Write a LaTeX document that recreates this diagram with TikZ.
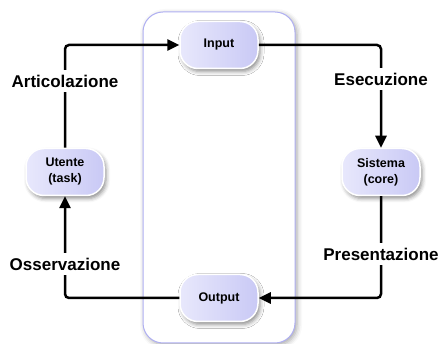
\documentclass[tikz,border=0pt]{standalone}
\usepackage{fontspec}
\setmainfont{Liberation Sans}
\usetikzlibrary{shadows.blur,arrows.meta}
\definecolor{nodelight}{HTML}{E8E8FC}
\definecolor{nodedark}{HTML}{C9C9F5}
\definecolor{frameblue}{HTML}{AFAFF2}
\begin{document}
\begin{tikzpicture}[x=1pt,y=-1pt,
  box/.style={draw=white, line width=1.5pt, rounded corners=18pt,
    minimum width=78pt, minimum height=47pt, inner sep=2pt,
    left color=nodelight, right color=nodedark,
    font=\bfseries\fontsize{12.5}{16}\selectfont, align=center,
    blur shadow={shadow xshift=2pt, shadow yshift=-3pt, shadow blur radius=4pt, shadow opacity=45}},
  conn/.style={line width=2.5pt, rounded corners=4pt, -{Triangle[length=12pt,width=11pt]}},
  lab/.style={fill=white, font=\bfseries\fontsize{17}{20}\selectfont, inner xsep=2pt, inner ysep=5pt}]
\useasboundingbox (0,0) rectangle (440,344);
\node[draw=frameblue, line width=1pt, fill=white, rounded corners=20pt,
  minimum width=152pt, minimum height=331pt, inner sep=0pt,
  blur shadow={shadow xshift=2pt, shadow yshift=-2pt, shadow blur radius=5pt, shadow opacity=35}] (frame) at (219,177.5) {};
\node[box] (input) at (219,45) {Input};
\node[box] (sistema) at (381,172) {Sistema\\(core)};
\node[box] (output) at (219,298) {Output};
\node[box] (utente) at (65,172) {Utente\\(task)};
\draw[conn] (utente.north) |- (input.west);
\draw[conn] (input.east) -| (sistema.north);
\draw[conn] (sistema.south) |- (output.east);
\draw[conn] (output.west) -| (utente.south);
\node[lab] (art) at (65,81) {Articolazione};
\node[lab] (ese) at (381,79) {Esecuzione};
\node[lab] (pre) at (381,254) {Presentazione};
\node[lab] (oss) at (65,264) {Osservazione};
\end{tikzpicture}
\end{document}
